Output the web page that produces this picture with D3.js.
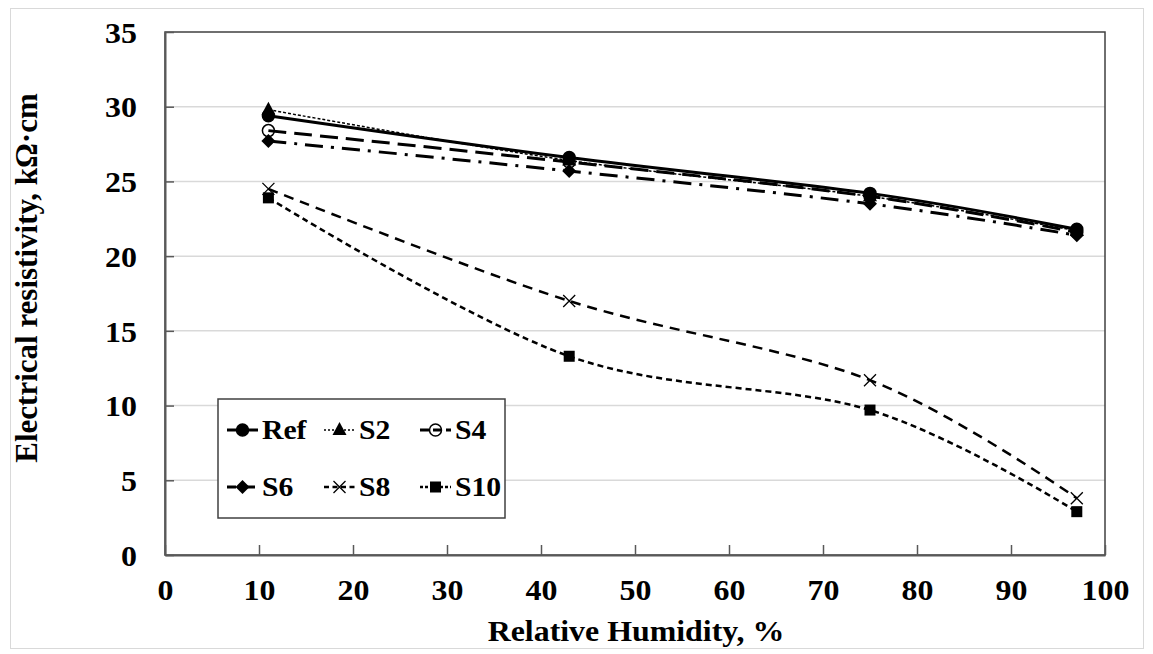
<!DOCTYPE html>
<html>
<head>
<meta charset="utf-8">
<script src="https://cdn.jsdelivr.net/npm/d3@7"></script>
<style>
  body { margin: 0; background: #fff; }
  svg text { font-family: "Times New Roman", "Liberation Serif", serif !important; font-weight: bold; fill: #000; }
</style>
</head>
<body>
<div id="chart"></div>
<script>
// data
const humidity = [11, 43, 75, 97];
const seriesNames = ['Ref', 'S2', 'S4', 'S6', 'S8', 'S10'];
const ref = [29.4, 26.6, 24.2, 21.8];
const s2  = [29.8, 26.4, 24.0, 21.7];
const s4  = [28.4, 26.3, 24.0, 21.6];
const s6  = [27.7, 25.7, 23.5, 21.4];
const s8  = [24.5, 17.0, 11.7, 3.8];
const s10 = [23.9, 13.3, 9.7, 2.9];
const xTicks = [0, 10, 20, 30, 40, 50, 60, 70, 80, 90, 100];
const yTicks = [0, 5, 10, 15, 20, 25, 30, 35];

const values = [ref, s2, s4, s6, s8, s10];

// line look per series
const styles = [
  { dash: null, width: 3, marker: 'circle', fill: '#000' },
  { dash: '3,2', width: 1.5, marker: 'triangle', fill: '#000' },
  { dash: '18,8', width: 3, marker: 'circle', fill: 'none' },
  { dash: '18,8,3,8', width: 3, marker: 'diamond', fill: '#000' },
  { dash: '10,7', width: 2.5, marker: 'cross', fill: 'none' },
  { dash: '6,4', width: 2.5, marker: 'square', fill: '#000' }
];

const w = 1153;
const h = 654;
const padL = 165, padR = 1105, padT = 32, padB = 555;
const stretch = 'scale(1.1,1)'; // the picture's text is a bit wide

const xScale = d3.scaleLinear().domain([0, 100]).range([padL, padR]);
const yScale = d3.scaleLinear().domain([0, 35]).range([padB, padT]);

const svg = d3.select('#chart')
  .append('svg')
  .attr('width', w)
  .attr('height', h);

// outer chart frame
svg.append('rect')
  .attr('x', 10.5).attr('y', 8.5)
  .attr('width', 1133).attr('height', 640)
  .attr('fill', 'none')
  .attr('stroke', '#d9d9d9');

// gridlines
svg.append('g')
  .selectAll('line')
  .data(yTicks.filter(d => d > 0 && d < 35))
  .enter()
  .append('line')
  .attr('x1', padL).attr('x2', padR)
  .attr('y1', d => yScale(d)).attr('y2', d => yScale(d))
  .attr('stroke', '#d9d9d9')
  .attr('stroke-width', 1.5);

// plot border
svg.append('rect')
  .attr('x', padL).attr('y', padT)
  .attr('width', padR - padL).attr('height', padB - padT)
  .attr('fill', 'none')
  .attr('stroke', '#404040')
  .attr('stroke-width', 1.5);

// axes, ticks inside
const xAxis = d3.axisBottom(xScale).tickValues(xTicks).tickSizeInner(-10).tickSizeOuter(0).tickPadding(24);
const yAxis = d3.axisLeft(yScale).tickValues(yTicks).tickSizeInner(-9).tickSizeOuter(0).tickPadding(25.5);

const gx = svg.append('g').attr('transform', `translate(0, ${padB})`).call(xAxis);
const gy = svg.append('g').attr('transform', `translate(${padL}, 0)`).call(yAxis);

[gx, gy].forEach(g => {
  g.attr('font-family', null).attr('font-size', null);
  g.select('.domain').attr('stroke', '#595959').attr('stroke-width', 2);
  g.selectAll('.tick line').attr('stroke', '#595959').attr('stroke-width', 1.5);
  g.selectAll('.tick text')
    .style('font-size', '29px')
    .attr('transform', stretch)
    .attr('fill', '#000');
});
gy.selectAll('.tick text').attr('dy', '0.35em');

// axis titles
svg.append('text')
  .attr('transform', `translate(636, 641) ${stretch}`)
  .attr('text-anchor', 'middle')
  .style('font-size', '29px')
  .text('Relative Humidity, %');

svg.append('text')
  .attr('transform', `translate(37, 278) rotate(-90)`)
  .attr('text-anchor', 'middle')
  .style('font-size', '31px')
  .text('Electrical resistivity, kΩ·cm');

// markers
function drawMarker(g, type, x, y, fill) {
  if (type === 'circle') {
    g.append('circle').attr('cx', x).attr('cy', y).attr('r', 6)
      .attr('fill', fill).attr('stroke', '#000').attr('stroke-width', 1.5);
  } else if (type === 'triangle') {
    g.append('path').attr('d', `M${x},${y - 8}L${x + 7},${y + 5}L${x - 7},${y + 5}Z`).attr('fill', fill);
  } else if (type === 'diamond') {
    g.append('path').attr('d', `M${x},${y - 7}L${x + 7},${y}L${x},${y + 7}L${x - 7},${y}Z`).attr('fill', fill);
  } else if (type === 'cross') {
    g.append('path').attr('d', `M${x - 6},${y - 6}L${x + 6},${y + 6}M${x + 6},${y - 6}L${x - 6},${y + 6}`)
      .attr('stroke', '#000').attr('stroke-width', 1.3).attr('fill', 'none');
  } else if (type === 'square') {
    g.append('rect').attr('x', x - 5.5).attr('y', y - 5.5).attr('width', 11).attr('height', 11).attr('fill', fill);
  }
}

// smoothed lines like the spreadsheet
const line = d3.line()
  .x((d, i) => xScale(humidity[i]))
  .y(d => yScale(d))
  .curve(d3.curveCardinal.tension(0));

const lines = svg.append('g');
// draw bottom series first so Ref sits on top
[5, 4, 3, 2, 1, 0].forEach(k => {
  const st = styles[k];
  lines.append('path')
    .datum(values[k])
    .attr('d', line)
    .attr('fill', 'none')
    .attr('stroke', '#000')
    .attr('stroke-width', st.width)
    .attr('stroke-dasharray', st.dash);
  values[k].forEach((v, i) => drawMarker(lines, st.marker, xScale(humidity[i]), yScale(v), st.fill));
});

// legend
const legend = svg.append('g');
legend.append('rect')
  .attr('x', 218).attr('y', 399)
  .attr('width', 287).attr('height', 119)
  .attr('fill', '#fff')
  .attr('stroke', '#404040')
  .attr('stroke-width', 1.5);

const colX = [227, 324, 420];
const rowY = [430, 487];
seriesNames.forEach((name, k) => {
  const st = styles[k];
  const x0 = colX[k % 3];
  const y0 = rowY[Math.floor(k / 3)];
  legend.append('line')
    .attr('x1', x0).attr('x2', x0 + 31)
    .attr('y1', y0).attr('y2', y0)
    .attr('stroke', '#000')
    .attr('stroke-width', st.width)
    .attr('stroke-dasharray', st.dash ? st.dash.split(',').map(n => Math.max(2, n / 2)).join(',') : null);
  drawMarker(legend, st.marker, x0 + 15.5, y0, st.fill);
  legend.append('text')
    .attr('transform', `translate(${x0 + 35}, ${y0 + 9}) ${stretch}`)
    .style('font-size', '27px')
    .text(name);
});
</script>
</body>
</html>
